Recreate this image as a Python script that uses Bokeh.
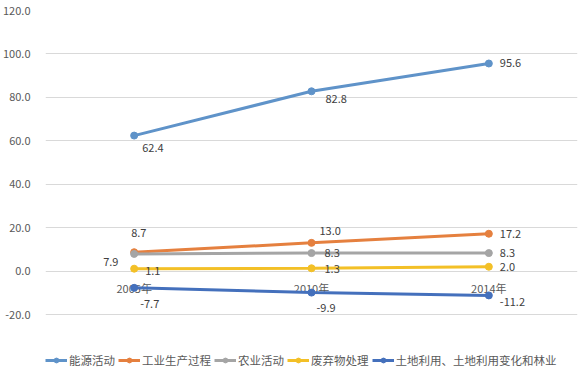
from bokeh.plotting import figure
from bokeh.models import FactorRange, Range1d, FixedTicker, NumeralTickFormatter, Legend, LegendItem, ColumnDataSource
from bokeh.core.properties import value
from bokeh.embed import file_html
from bokeh.resources import INLINE

categories = ["2005年", "2010年", "2014年"]
series_names = ["能源活动", "工业生产过程", "农业活动", "废弃物处理", "土地利用、土地利用变化和林业"]
energy = [62.4, 82.8, 95.6]
industry = [8.7, 13.0, 17.2]
agriculture = [7.9, 8.3, 8.3]
waste = [1.1, 1.3, 2.0]
land_use = [-7.7, -9.9, -11.2]
y_ticks = [-20, 0, 20, 40, 60, 80, 100, 120]

series_values = [energy, industry, agriculture, waste, land_use]
colors = ["#5F93C9", "#E5803F", "#A5A5A5", "#F3C027", "#4470BC"]
# screen offsets (px) of each data label relative to its point: (dx, dy)
label_offsets = [
    [(8, 12), (14, 8), (11, 0)],
    [(-3, -19), (8, -12), (11, 0)],
    [(-31, 8), (13, 0), (11, 0)],
    [(11, 2), (13, 1), (11, 0)],
    [(6, 16), (5, 15), (11, 7)],
]

FONT = "Noto Sans CJK SC"

# the frame reaches down to hold the legend; gridlines/ticks stop at -20
p = figure(width=585, height=385, x_range=FactorRange(*categories, range_padding=0),
           y_range=Range1d(-49, 120), output_backend="svg", toolbar_location=None,
           min_border_left=39, min_border_right=8, min_border_top=10, min_border_bottom=8)
p.outline_line_color = None
p.background_fill_color = "white"
p.border_fill_color = "white"

p.xaxis.visible = False
p.xgrid.grid_line_color = None
p.ygrid.grid_line_color = "#D9D9D9"
p.ygrid.grid_line_width = 1
p.yaxis.ticker = FixedTicker(ticks=y_ticks)
p.ygrid.ticker = FixedTicker(ticks=y_ticks)
p.yaxis.formatter = NumeralTickFormatter(format="0.0")
p.yaxis.axis_line_color = None
p.yaxis.major_tick_line_color = None
p.yaxis.minor_tick_line_color = None
p.yaxis.major_label_standoff = 9
p.yaxis.major_label_text_font = FONT
p.yaxis.major_label_text_font_size = "11px"
p.yaxis.major_label_text_color = "#595959"

# category labels along the zero line (drawn first, lines pass over them)
cat_src = ColumnDataSource(dict(x=categories, y=[0] * len(categories), t=categories))
p.text("x", "y", text="t", source=cat_src, y_offset=17, text_align="center",
       text_baseline="middle", text_font=value(FONT), text_font_size="11px",
       text_color="#595959")

items = []
for name, vals, col, offs in zip(series_names, series_values, colors, label_offsets):
    src = ColumnDataSource(dict(x=categories, y=vals,
                                t=["%.1f" % v for v in vals],
                                dx=[o[0] for o in offs], dy=[o[1] for o in offs]))
    l = p.line("x", "y", source=src, line_color=col, line_width=3)
    s = p.scatter("x", "y", source=src, size=7, fill_color=col, line_color=col)
    items.append(LegendItem(label=name, renderers=[l, s]))
    p.text("x", "y", text="t", source=src, x_offset="dx", y_offset="dy",
           text_align="left", text_baseline="middle", text_font=value(FONT),
           text_font_size="11px", text_color="#404040")

legend = Legend(items=items, orientation="horizontal", location=(0, 9),
                label_text_font=FONT, label_text_font_size="11.5px",
                label_text_color="#595959", glyph_width=22, glyph_height=12,
                label_standoff=2, spacing=3, padding=0, margin=0,
                border_line_color=None, background_fill_alpha=0)
p.add_layout(legend)

open("out.html", "w").write(file_html(p, INLINE))
